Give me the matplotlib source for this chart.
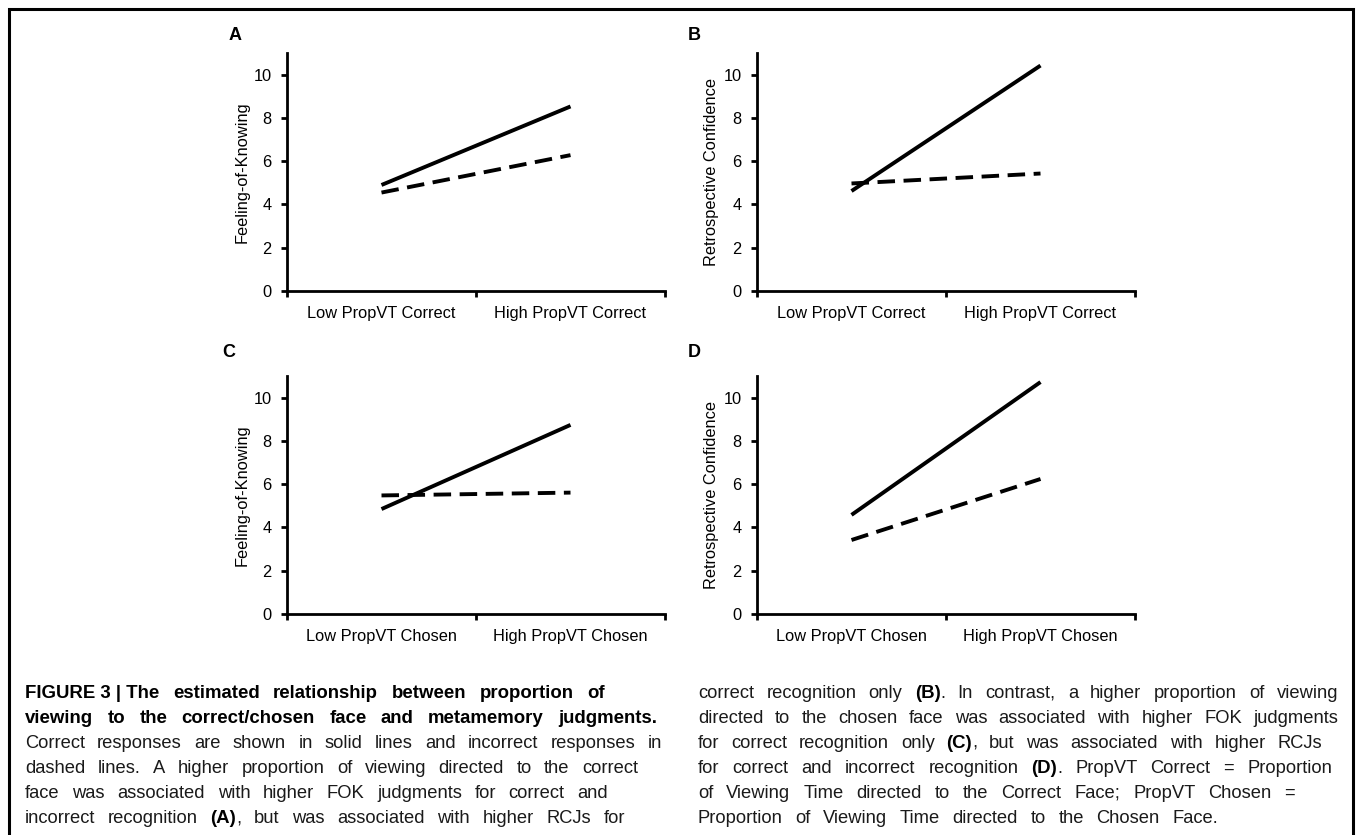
import matplotlib
matplotlib.use("Agg")
import matplotlib.pyplot as plt
from matplotlib.patches import Rectangle

plt.rcParams['font.family'] = ['Liberation Sans', 'DejaVu Sans']

# data
correct_cats = ["Low PropVT Correct", "High PropVT Correct"]
chosen_cats = ["Low PropVT Chosen", "High PropVT Chosen"]

fok_correct_solid = [4.9, 8.53]
fok_correct_dashed = [4.55, 6.28]
rcj_correct_solid = [4.62, 10.42]
rcj_correct_dashed = [4.97, 5.43]
fok_chosen_solid = [4.85, 8.74]
fok_chosen_dashed = [5.48, 5.61]
rcj_chosen_solid = [4.58, 10.72]
rcj_chosen_dashed = [3.42, 6.24]

y_ticks = [0, 2, 4, 6, 8, 10]

W, H = 1358, 835
fig = plt.figure(figsize=(W / 100, H / 100), dpi=100)

# outer frame (bottom edge runs off the picture)
fig.patches.append(Rectangle((8.5 / W, -0.05), 1344 / W, 1 - 9.5 / H + 0.05,
                             transform=fig.transFigure, fill=False,
                             edgecolor='black', linewidth=2.2))


def panel(rect, cats, solid, dashed, ylabel, letter, letter_xy):
    ax = fig.add_axes(rect)
    x = list(range(len(cats)))
    ax.plot(x, solid, color='black', lw=2.8, solid_capstyle='butt')
    ax.plot(x, dashed, color='black', lw=2.8, dashes=(4.5, 2.2),
            dash_capstyle='butt')
    ax.set_xlim(-0.5, 1.5)
    ax.set_ylim(0, 11)
    ax.set_yticks(y_ticks)
    ax.set_xticks(x)
    ax.set_xticklabels(cats, fontsize=11.8)
    ax.set_xticks([-0.5, 0.5, 1.5], minor=True)
    ax.tick_params(axis='x', which='major', length=0, pad=11)
    ax.tick_params(axis='x', which='minor', length=4.5, width=2, direction='out')
    ax.tick_params(axis='y', length=4, width=2, direction='out', pad=7,
                   labelsize=11.8)
    for s in ['top', 'right']:
        ax.spines[s].set_visible(False)
    for s in ['left', 'bottom']:
        ax.spines[s].set_linewidth(2)
    ax.set_ylabel(ylabel, fontsize=11.8, labelpad=3)
    fig.text(letter_xy[0] / W, 1 - letter_xy[1] / H, letter, fontsize=13,
             fontweight='bold', va='center', ha='left')
    return ax


aw, ah = 378 / W, 238 / H
panel([287 / W, 1 - 291 / H, aw, ah], correct_cats, fok_correct_solid,
      fok_correct_dashed, "Feeling-of-Knowing", "A", (229, 36))
panel([757 / W, 1 - 291 / H, aw, ah], correct_cats, rcj_correct_solid,
      rcj_correct_dashed, "Retrospective Confidence", "B", (688, 36))
panel([287 / W, 1 - 614 / H, aw, ah], chosen_cats, fok_chosen_solid,
      fok_chosen_dashed, "Feeling-of-Knowing", "C", (222, 352))
panel([757 / W, 1 - 614 / H, aw, ah], chosen_cats, rcj_chosen_solid,
      rcj_chosen_dashed, "Retrospective Confidence", "D", (688, 352))

# caption, two justified columns
B = True
N = False
left_lines = [
    [[("FIGURE 3 | The", B)], [("estimated", B)], [("relationship", B)],
     [("between", B)], [("proportion", B)], [("of", B)]],
    [[(w, B)] for w in "viewing to the correct/chosen face and metamemory judgments.".split()],
    [[(w, N)] for w in "Correct responses are shown in solid lines and incorrect responses in".split()],
    [[(w, N)] for w in "dashed lines. A higher proportion of viewing directed to the correct".split()],
    [[(w, N)] for w in "face was associated with higher FOK judgments for correct and".split()],
    [[(w, N)] for w in "incorrect recognition".split()] + [[("(A)", B), (",", N)]]
    + [[(w, N)] for w in "but was associated with higher RCJs for".split()],
]
right_lines = [
    [[(w, N)] for w in "correct recognition only".split()] + [[("(B)", B), (".", N)]]
    + [[(w, N)] for w in "In contrast, a higher proportion of viewing".split()],
    [[(w, N)] for w in "directed to the chosen face was associated with higher FOK judgments".split()],
    [[(w, N)] for w in "for correct recognition only".split()] + [[("(C)", B), (",", N)]]
    + [[(w, N)] for w in "but was associated with higher RCJs".split()],
    [[(w, N)] for w in "for correct and incorrect recognition".split()] + [[("(D)", B), (".", N)]]
    + [[(w, N)] for w in "PropVT Correct = Proportion".split()],
    [[(w, N)] for w in "of Viewing Time directed to the Correct Face; PropVT Chosen =".split()],
    [[(w, N)] for w in "Proportion of Viewing Time directed to the Chosen Face.".split()],
]
left_ends = [605, 657, 662, 638, 608, 625]
right_ends = [1338, 1338, 1322, 1332, 1295, 1218]
baselines = [698, 723, 748, 773, 798, 823]

renderer = fig.canvas.get_renderer()


def seg_style(bold):
    if bold:
        return dict(fontsize=13.4, fontweight='bold', color='black')
    return dict(fontsize=13.2, color='#1a1a1a')


def put_line(words, x0, x1, yb):
    made = []
    widths = []
    for word in words:
        parts = []
        wsum = 0
        for s, bold in word:
            t = fig.text(0, 0, s, va='baseline', ha='left', **seg_style(bold))
            w = t.get_window_extent(renderer).width
            parts.append((t, w))
            wsum += w
        made.append(parts)
        widths.append(wsum)
    gap = (x1 - x0 - sum(widths)) / max(len(words) - 1, 1)
    x = x0
    for parts, wsum in zip(made, widths):
        xx = x
        for t, w in parts:
            t.set_position((xx / W, 1 - yb / H))
            xx += w
        x += wsum + gap


for words, xe, yb in zip(left_lines, left_ends, baselines):
    put_line(words, 25, xe, yb)
for words, xe, yb in zip(right_lines, right_ends, baselines):
    put_line(words, 698, xe, yb)

fig.savefig("out.png", dpi=100)
